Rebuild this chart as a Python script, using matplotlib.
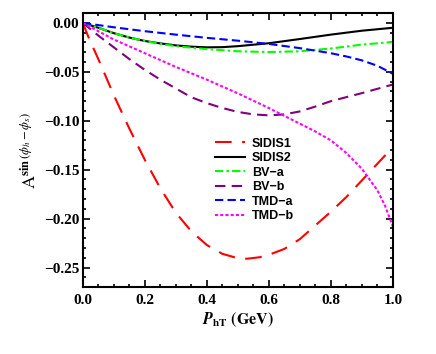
import matplotlib
matplotlib.use("Agg")
import matplotlib.pyplot as plt
from matplotlib.ticker import MultipleLocator

# values
x_sidis1 = [0, 0.02, 0.05, 0.1, 0.15, 0.2, 0.25, 0.3, 0.35, 0.4, 0.45, 0.5, 0.53, 0.57, 0.6, 0.65, 0.7, 0.75, 0.8, 0.85, 0.9, 0.95, 1.0]
y_sidis1 = [0, -0.016, -0.037, -0.074, -0.108, -0.140, -0.169, -0.194, -0.213, -0.227, -0.236, -0.2405, -0.241, -0.2395, -0.237, -0.231, -0.221, -0.207, -0.193, -0.178, -0.161, -0.144, -0.127]

x_sidis2 = [0, 0.05, 0.1, 0.15, 0.2, 0.25, 0.3, 0.35, 0.4, 0.45, 0.5, 0.6, 0.7, 0.8, 0.9, 1.0]
y_sidis2 = [0, -0.005, -0.0105, -0.015, -0.0185, -0.021, -0.023, -0.0243, -0.025, -0.0248, -0.0238, -0.0208, -0.0165, -0.012, -0.008, -0.005]

x_bva = [0, 0.05, 0.1, 0.15, 0.2, 0.25, 0.3, 0.4, 0.5, 0.6, 0.7, 0.8, 0.9, 1.0]
y_bva = [0, -0.005, -0.0105, -0.015, -0.0185, -0.0215, -0.0238, -0.0268, -0.029, -0.0298, -0.029, -0.0262, -0.0222, -0.0195]

x_bvb = [0, 0.05, 0.1, 0.15, 0.2, 0.25, 0.3, 0.35, 0.4, 0.45, 0.5, 0.55, 0.6, 0.65, 0.7, 0.75, 0.8, 0.9, 1.0]
y_bvb = [0, -0.013, -0.025, -0.037, -0.048, -0.058, -0.067, -0.076, -0.082, -0.087, -0.091, -0.0935, -0.0945, -0.0935, -0.0905, -0.0855, -0.080, -0.0718, -0.063]

x_tmda = [0, 0.1, 0.2, 0.3, 0.4, 0.5, 0.6, 0.7, 0.8, 0.85, 0.9, 0.95, 1.0]
y_tmda = [0, -0.0045, -0.0085, -0.012, -0.0153, -0.0182, -0.0215, -0.0258, -0.031, -0.0343, -0.0383, -0.0438, -0.052]

x_tmdb = [0, 0.1, 0.2, 0.3, 0.4, 0.5, 0.6, 0.65, 0.7, 0.75, 0.8, 0.85, 0.9, 0.95, 0.975, 1.0]
y_tmdb = [0, -0.017, -0.031, -0.045, -0.058, -0.072, -0.087, -0.095, -0.103, -0.111, -0.120, -0.133, -0.149, -0.171, -0.187, -0.208]

plt.rcParams['mathtext.fontset'] = 'stix'
plt.rcParams['font.family'] = 'Liberation Serif'

fig = plt.figure(figsize=(4.36, 3.54), dpi=100)
ax = fig.add_axes([0.190, 0.189, 0.711, 0.774])

ax.plot(x_sidis1, y_sidis1, color='red', lw=1.5, dashes=(8, 5), label='SIDIS1')
ax.plot(x_sidis2, y_sidis2, color='black', lw=1.5, label='SIDIS2')
ax.plot(x_bva, y_bva, color='#00ff00', lw=1.5, dashes=(4, 1.5, 1.2, 1.5), label='BV\u2212a')
ax.plot(x_bvb, y_bvb, color='purple', lw=1.5, dashes=(5, 3), label='BV\u2212b')
ax.plot(x_tmda, y_tmda, color='blue', lw=1.5, dashes=(4, 2), label='TMD\u2212a')
ax.plot(x_tmdb, y_tmdb, color='magenta', lw=1.5, dashes=(1.5, 1), label='TMD\u2212b')

ax.set_xlim(0, 1.0)
ax.set_ylim(-0.27, 0.01)
ax.xaxis.set_major_locator(MultipleLocator(0.2))
ax.xaxis.set_minor_locator(MultipleLocator(0.05))
ax.yaxis.set_major_locator(MultipleLocator(0.05))
ax.yaxis.set_minor_locator(MultipleLocator(0.01))
ax.xaxis.set_major_formatter(lambda v, p: f"{v:.1f}")
ax.yaxis.set_major_formatter(lambda v, p: f"{v:.2f}".replace('-', '\u2212'))
ax.tick_params(which='both', direction='in', top=True, right=True, width=1.2)
ax.tick_params(which='major', length=5, labelsize=11)
ax.tick_params(which='minor', length=2.5)
ax.tick_params(axis='x', which='major', pad=5)
ax.tick_params(axis='y', which='major', pad=2.5)
for lab in ax.get_xticklabels() + ax.get_yticklabels():
    lab.set_fontweight('bold')
for s in ax.spines.values():
    s.set_linewidth(1.5)

ax.set_xlabel(r'$\mathbfit{P}_{\mathbf{hT}}$ $\mathbf{(GeV)}$', fontsize=11.5, labelpad=2)
ax.set_ylabel(r'$\mathrm{A}^{\mathbf{sin}\,(\phi_h - \phi_s)}$', fontsize=13, labelpad=3)

leg = ax.legend(loc='upper left', bbox_to_anchor=(0.39, 0.586), frameon=False,
                handlelength=2.4, handletextpad=0.55, labelspacing=0.2,
                prop={'family': 'Liberation Sans', 'weight': 'bold', 'size': 9})

fig.savefig('out.png', dpi=100)
